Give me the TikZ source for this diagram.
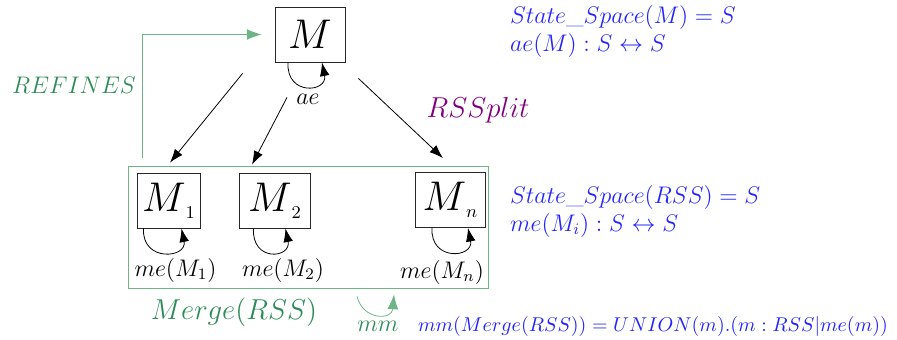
\documentclass[tikz,border=0pt]{standalone}
\usepackage{amsmath,amssymb}
\usepackage{tikz}
\usetikzlibrary{arrows.meta}
\definecolor{refgreen}{RGB}{46,139,87}
\definecolor{linegreen}{RGB}{110,180,135}
\definecolor{specblue}{RGB}{35,35,255}
\definecolor{splitpurple}{RGB}{128,0,128}
\tikzset{
  machbox/.style  = {draw,black!85,text=black,minimum width=35pt,minimum height=27.5pt,inner sep=0pt},
  tiparr/.style   = {-{Latex[length=2.4mm,width=1.7mm]}},
  greenarr/.style = {-{Latex[length=2.6mm,width=1.9mm]},linegreen},
  spectext/.style = {anchor=west,align=left,text=specblue,font=\large}
}
\newcommand{\bigM}[1]{{\huge$M$}\raisebox{-3.5pt}{\small$#1$}}

\begin{document}
\begin{tikzpicture}[x=0.5pt,y=0.5pt]
  \useasboundingbox (0,0) rectangle (897,339);
  % the machine and its refinement
  \node[machbox] (M) at (310,304.5) {\huge$M$};
  \node[draw,linegreen,minimum width=180pt,minimum height=61pt,inner sep=0pt] (rss) at (308,112) {};
  \node[machbox,minimum width=31.5pt] (M1) at (168.5,138.5) {\bigM{1}};
  \node[machbox,minimum width=35.5pt] (M2) at (274.5,138.5) {\bigM{2}};
  \node[machbox] (Mn) at (450,139) {\bigM{n}};
  % self loops
  \draw[tiparr] ([xshift=-11pt]M.south) .. controls +(-1pt,-17pt) and +(3pt,-15pt) .. ([xshift=6pt]M.south);
  \draw[tiparr] ([xshift=-12.5pt]M1.south) .. controls +(-1pt,-17pt) and +(3pt,-15pt) .. ([xshift=6.5pt]M1.south);
  \draw[tiparr] ([xshift=-10.5pt]M2.south) .. controls +(-1pt,-17pt) and +(3pt,-15pt) .. ([xshift=5.5pt]M2.south);
  \draw[tiparr] ([xshift=-9pt]Mn.south) .. controls +(-1pt,-17pt) and +(3pt,-15pt) .. ([xshift=9pt]Mn.south);
  \node[font=\large] (ae) at (308,240) {$ae$};
  \node[font=\large] (me1) at (175.5,69) {$me(M_1)$};
  \node[font=\large] (me2) at (283,69) {$me(M_2)$};
  \node[font=\large] (men) at (442,67) {$me(M_n)$};
  % splitting
  \draw[tiparr] ([xshift=-16pt,yshift=-5.5pt]M.south west) -- ([xshift=0.75pt,yshift=5pt]M1.north);
  \draw[tiparr] ([xshift=-11.5pt,yshift=-17.5pt]M.south) -- ([xshift=-11.25pt,yshift=4pt]M2.north);
  \draw[tiparr] ([xshift=6.5pt,yshift=-8pt]M.south east) -- ([xshift=-3.5pt,yshift=7pt]Mn.north);
  \node[font=\Large,text=splitpurple] (split) at (478,229) {$RSSplit$};
  % refinement and merge
  \draw[greenarr] ([xshift=7.5pt,yshift=4pt]rss.north west) |- ([xshift=-6.5pt]M.west);
  \node[font=\large,text=refgreen] (ref) at (74,254) {$REFINES$};
  \node[font=\Large,text=refgreen] (merge) at (234,27) {$Merge(RSS)$};
  \draw[greenarr] ([xshift=24.5pt,yshift=-4pt]rss.south) .. controls +(3pt,-12pt) and +(-1pt,-13pt) .. ([xshift=43pt,yshift=-3pt]rss.south);
  \node[font=\large,text=refgreen] (mm) at (378,13) {$mm$};
  % the specification side
  \node[spectext] (specM) at (503,308) {$State\_Space(M) = S$\\$ae(M) : S \leftrightarrow S$};
  \node[spectext] (specR) at (503,128) {$State\_Space(RSS) = S$\\$me(M_i) : S \leftrightarrow S$};
  \node[spectext,font=\fontsize{10.2}{12}\selectfont] (specmm) at (411,13) {$mm(Merge(RSS)) = UNION(m).(m : RSS|me(m))$};
\end{tikzpicture}
\end{document}
